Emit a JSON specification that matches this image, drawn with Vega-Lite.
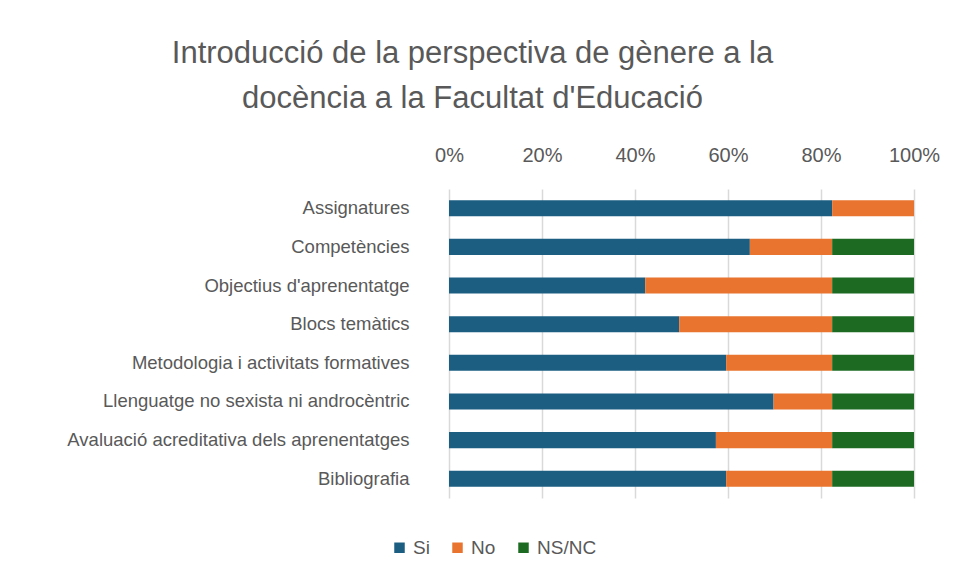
{
  "$schema": "https://vega.github.io/schema/vega-lite/v6.json",
  "width": 465,
  "height": 309,
  "autosize": {"type": "none"},
  "padding": {"left": 449, "top": 189, "right": 46, "bottom": 85},
  "background": "white",
  "title": {
    "text": ["Introducció de la perspectiva de gènere a la", "docència a la Facultat d'Educació"],
    "font": "Liberation Sans, Arial, sans-serif",
    "fontSize": 31,
    "fontWeight": "normal",
    "color": "#595959",
    "lineHeight": 45,
    "anchor": "middle",
    "dx": -209,
    "offset": 30
  },
  "data": {
    "values": [
      {"categoria": "Assignatures", "resposta": "Si", "valor": 82.4},
      {"categoria": "Assignatures", "resposta": "No", "valor": 17.6},
      {"categoria": "Assignatures", "resposta": "NS/NC", "valor": 0},
      {"categoria": "Competències", "resposta": "Si", "valor": 64.7},
      {"categoria": "Competències", "resposta": "No", "valor": 17.7},
      {"categoria": "Competències", "resposta": "NS/NC", "valor": 17.6},
      {"categoria": "Objectius d'aprenentatge", "resposta": "Si", "valor": 42.2},
      {"categoria": "Objectius d'aprenentatge", "resposta": "No", "valor": 40.2},
      {"categoria": "Objectius d'aprenentatge", "resposta": "NS/NC", "valor": 17.6},
      {"categoria": "Blocs temàtics", "resposta": "Si", "valor": 49.5},
      {"categoria": "Blocs temàtics", "resposta": "No", "valor": 32.9},
      {"categoria": "Blocs temàtics", "resposta": "NS/NC", "valor": 17.6},
      {"categoria": "Metodologia i activitats formatives", "resposta": "Si", "valor": 59.6},
      {"categoria": "Metodologia i activitats formatives", "resposta": "No", "valor": 22.8},
      {"categoria": "Metodologia i activitats formatives", "resposta": "NS/NC", "valor": 17.6},
      {"categoria": "Llenguatge no sexista ni androcèntric", "resposta": "Si", "valor": 69.8},
      {"categoria": "Llenguatge no sexista ni androcèntric", "resposta": "No", "valor": 12.6},
      {"categoria": "Llenguatge no sexista ni androcèntric", "resposta": "NS/NC", "valor": 17.6},
      {"categoria": "Avaluació acreditativa dels aprenentatges", "resposta": "Si", "valor": 57.4},
      {"categoria": "Avaluació acreditativa dels aprenentatges", "resposta": "No", "valor": 25.0},
      {"categoria": "Avaluació acreditativa dels aprenentatges", "resposta": "NS/NC", "valor": 17.6},
      {"categoria": "Bibliografia", "resposta": "Si", "valor": 59.6},
      {"categoria": "Bibliografia", "resposta": "No", "valor": 22.8},
      {"categoria": "Bibliografia", "resposta": "NS/NC", "valor": 17.6}
    ]
  },
  "mark": {"type": "bar"},
  "encoding": {
    "y": {
      "field": "categoria",
      "type": "nominal",
      "sort": null,
      "scale": {"paddingInner": 0.585, "paddingOuter": 0.29},
      "axis": {
        "title": null,
        "domain": false,
        "ticks": false,
        "grid": false,
        "labelPadding": 40,
        "labelFont": "Liberation Sans, Arial, sans-serif",
        "labelFontSize": 18.5,
        "labelColor": "#595959",
        "labelLimit": 450
      }
    },
    "x": {
      "field": "valor",
      "type": "quantitative",
      "stack": "normalize",
      "scale": {"domain": [0, 1], "nice": false},
      "axis": {
        "orient": "top",
        "title": null,
        "format": ".0%",
        "values": [0, 0.2, 0.4, 0.6, 0.8, 1],
        "domain": false,
        "ticks": false,
        "grid": true,
        "gridColor": "#d9d9d9",
        "gridWidth": 1.5,
        "labelPadding": 24,
        "labelFont": "Liberation Sans, Arial, sans-serif",
        "labelFontSize": 20,
        "labelColor": "#595959",
        "labelFlush": false
      }
    },
    "color": {
      "field": "resposta",
      "type": "nominal",
      "scale": {"domain": ["Si", "No", "NS/NC"], "range": ["#1b5e82", "#e8742f", "#1d6b23"]},
      "legend": {
        "title": null,
        "orient": "none",
        "direction": "horizontal",
        "legendX": -59,
        "legendY": 349,
        "symbolType": "square",
        "symbolSize": 110,
        "symbolStrokeWidth": 0,
        "labelFont": "Liberation Sans, Arial, sans-serif",
        "labelFontSize": 19,
        "labelColor": "#595959",
        "columnPadding": 18,
        "labelOffset": 4
      }
    },
    "order": {"field": "resposta", "sort": "descending"}
  },
  "config": {"view": {"stroke": null}}
}
